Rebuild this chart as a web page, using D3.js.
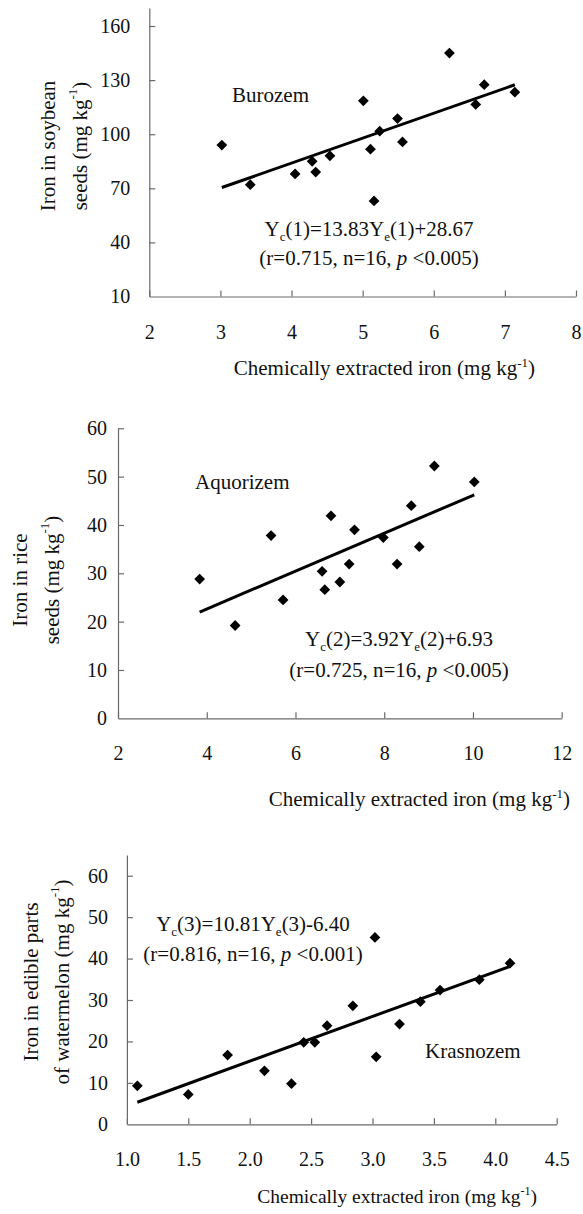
<!DOCTYPE html>
<html>
<head>
<meta charset="utf-8">
<script src="https://cdn.jsdelivr.net/npm/d3@7"></script>
<style>
  html, body { margin: 0; padding: 0; background: #fff; }
  svg { display: block; }
  text { font-family: "Liberation Serif", "Times New Roman", serif; fill: #111; }
</style>
</head>
<body>
<svg id="chart" width="583" height="1214"></svg>
<script>
// ---------- Data ----------
// Panel 1: Burozem (soybean)
const soyX = [3.02, 3.42, 4.05, 4.29, 4.34, 4.54, 5.01, 5.11, 5.16, 5.24, 5.49, 5.56, 6.22, 6.59, 6.71, 7.14];
const soyY = [94, 72, 78, 85, 79, 88, 118.5, 91.7, 63, 101.7, 108.7, 95.7, 145, 116.5, 127.5, 123.3];
const soyXTicks = [2, 3, 4, 5, 6, 7, 8];
const soyYTicks = [10, 40, 70, 100, 130, 160];
const soyFit = [13.83, 28.67]; // slope, intercept

// Panel 2: Aquorizem (rice)
const riceX = [3.84, 4.64, 5.45, 5.72, 6.60, 6.66, 6.80, 7.00, 7.21, 7.33, 7.98, 8.29, 8.61, 8.79, 9.13, 10.03];
const riceY = [28.8, 19.2, 37.8, 24.5, 30.4, 26.6, 41.9, 28.2, 31.9, 39.0, 37.4, 31.9, 44.0, 35.5, 52.2, 48.9];
const riceXTicks = [2, 4, 6, 8, 10, 12];
const riceYTicks = [0, 10, 20, 30, 40, 50, 60];
const riceFit = [3.92, 6.93];

// Panel 3: Krasnozem (watermelon)
const melonX = [1.085, 1.50, 1.82, 2.12, 2.34, 2.44, 2.53, 2.63, 2.84, 3.02, 3.03, 3.22, 3.39, 3.55, 3.87, 4.12];
const melonY = [9.3, 7.2, 16.7, 12.9, 9.8, 19.8, 19.8, 23.8, 28.6, 45.1, 16.3, 24.2, 29.6, 32.4, 34.9, 38.9];
const melonXTicks = [1.0, 1.5, 2.0, 2.5, 3.0, 3.5, 4.0, 4.5];
const melonYTicks = [0, 10, 20, 30, 40, 50, 60];
const melonFit = [10.81, -6.40];

const panelNames = ["Burozem", "Aquorizem", "Krasnozem"];
const yTitles = [["Iron in soybean", "seeds (mg kg", ")"], ["Iron in rice", "seeds (mg kg", ")"], ["Iron in edible parts", "of watermelon (mg kg", ")"]];
const eqLines = [
  ["(1)", "=13.83", "(1)+28.67", "(r=0.715, n=16, ", "<0.005)"],
  ["(2)", "=3.92", "(2)+6.93", "(r=0.725, n=16, ", "<0.005)"],
  ["(3)", "=10.81", "(3)-6.40", "(r=0.816, n=16, ", "<0.001)"]
];
const xTitle = ["Chemically extracted iron (mg", "kg", ")"];

// ---------- Layout ----------
const panels = [
  { xs: soyX, ys: soyY, xt: soyXTicks, yt: soyYTicks, fit: soyFit, fmt: d3.format("d"),
    xDom: [2, 8], xR: [149.3, 576], yDom: [10, 170], yR: [296.5, 8], yPad: 19,
    name: [232, 101.5], eq: [369, 235.5, 265], ytX: [48, 80], ytY: 146, xtEnd: 535, xtY: 375, xtSize: 21 },
  { xs: riceX, ys: riceY, xt: riceXTicks, yt: riceYTicks, fit: riceFit, fmt: d3.format("d"),
    xDom: [2, 12], xR: [118, 561.7], yDom: [0, 60], yR: [718.3, 428.3], yPad: 11,
    name: [195, 489], eq: [399, 646, 677], ytX: [20, 52], ytY: 580, xtEnd: 570, xtY: 806, xtSize: 21 },
  { xs: melonX, ys: melonY, xt: melonXTicks, yt: melonYTicks, fit: melonFit, fmt: d3.format(".1f"),
    xDom: [1, 4.5], xR: [126.9, 556.7], yDom: [0, 65], yR: [1124.3, 855], yPad: 19,
    name: [425, 1058], eq: [253, 930.5, 961], ytX: [31, 62], ytY: 982, xtEnd: 537, xtY: 1203, xtSize: 19.5 }
];

const svg = d3.select("#chart");
const axisColor = "#6a6a6a";

panels.forEach((p, i) => {
  const x = d3.scaleLinear().domain(p.xDom).range(p.xR);
  const y = d3.scaleLinear().domain(p.yDom).range(p.yR);
  const g = svg.append("g");

  // X axis
  const xa = g.append("g")
    .attr("transform", `translate(0,${p.yR[0]})`)
    .call(d3.axisBottom(x).tickValues(p.xt).tickFormat(p.fmt).tickSize(-6).tickSizeOuter(0).tickPadding(28));
  // Y axis
  const ya = g.append("g")
    .attr("transform", `translate(${p.xR[0]},0)`)
    .call(d3.axisLeft(y).tickValues(p.yt).tickFormat(d3.format("d")).tickSize(-6).tickSizeOuter(0).tickPadding(p.yPad));
  [xa, ya].forEach(a => {
    a.attr("font-family", null);
    a.select(".domain").attr("stroke", axisColor).attr("stroke-width", 1.2);
    a.selectAll(".tick line").attr("stroke", axisColor).attr("stroke-width", 1.2);
    a.selectAll(".tick text").attr("font-size", 20).attr("font-family", "Liberation Serif").attr("fill", "#111");
  });
  ya.selectAll(".tick").filter(d => d === p.yDom[0]).select("line").remove();

  // Regression line
  const fx = d3.extent(p.xs);
  g.append("path")
    .datum(fx.map(v => [v, p.fit[0] * v + p.fit[1]]))
    .attr("d", d3.line().x(d => x(d[0])).y(d => y(d[1])))
    .attr("stroke", "#000").attr("stroke-width", 3).attr("fill", "none");

  // Points (diamonds)
  const sym = d3.symbol().type(d3.symbolSquare).size(58);
  g.selectAll(".pt").data(p.xs.map((v, k) => [v, p.ys[k]])).enter()
    .append("path")
    .attr("d", sym)
    .attr("transform", d => `translate(${x(d[0])},${y(d[1])}) rotate(45)`)
    .attr("fill", "#000");

  // Soil name
  g.append("text").attr("x", p.name[0]).attr("y", p.name[1]).attr("font-size", 21).text(panelNames[i]);

  // Equation
  const e = eqLines[i];
  const t1 = g.append("text").attr("x", p.eq[0]).attr("y", p.eq[1]).attr("font-size", 21).attr("text-anchor", "middle");
  t1.append("tspan").text("Y");
  t1.append("tspan").attr("font-size", 13).attr("dy", 5).text("c");
  t1.append("tspan").attr("dy", -5).text(e[0] + e[1] + "Y");
  t1.append("tspan").attr("font-size", 13).attr("dy", 5).text("e");
  t1.append("tspan").attr("dy", -5).text(e[2]);
  const t2 = g.append("text").attr("x", p.eq[0]).attr("y", p.eq[2]).attr("font-size", 21).attr("text-anchor", "middle");
  t2.append("tspan").text(e[3]);
  t2.append("tspan").attr("font-style", "italic").text("p");
  t2.append("tspan").text(" " + e[4]);

  // Y title (two lines, rotated)
  const yt = yTitles[i];
  g.append("text")
    .attr("transform", `translate(${p.ytX[0]},${p.ytY}) rotate(-90)`)
    .attr("text-anchor", "middle").attr("dominant-baseline", "central")
    .attr("font-size", 21).text(yt[0]);
  const y2 = g.append("text")
    .attr("transform", `translate(${p.ytX[1]},${p.ytY}) rotate(-90)`)
    .attr("text-anchor", "middle").attr("dominant-baseline", "central")
    .attr("font-size", 21);
  y2.append("tspan").text(yt[1]);
  y2.append("tspan").attr("font-size", 13).attr("dy", -8).text("-1");
  y2.append("tspan").attr("dy", 8).text(yt[2]);

  // X title
  const xtt = g.append("text").attr("x", p.xtEnd).attr("y", p.xtY)
    .attr("text-anchor", "end").attr("font-size", p.xtSize);
  xtt.append("tspan").text(xTitle[0] + " " + xTitle[1]);
  xtt.append("tspan").attr("font-size", p.xtSize * 0.62).attr("dy", -8).text("-1");
  xtt.append("tspan").attr("dy", 8).text(xTitle[2]);
});
</script>
</body>
</html>
